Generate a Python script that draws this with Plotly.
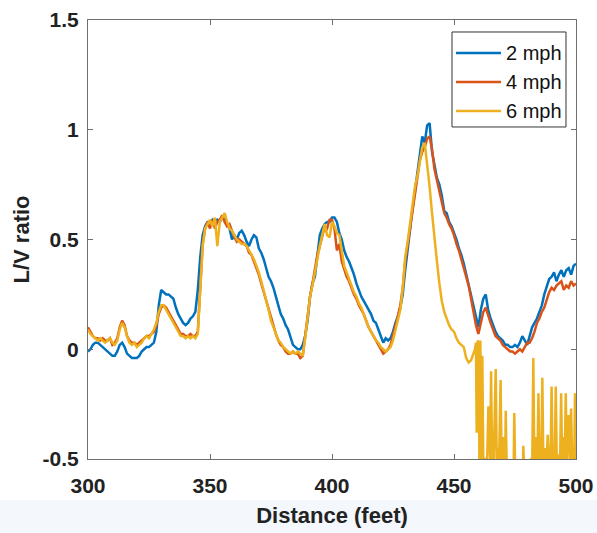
import plotly.graph_objects as go

# Distance along the track (feet), 1 ft steps
distance = list(range(300, 501))

# L/V ratio, 2 mph run
lv_2mph = [
    -0.01, 0.00, 0.02, 0.03, 0.03, 0.02, 0.01, 0.00, -0.01, -0.02,
    -0.03, -0.03, -0.01, 0.02, 0.03, 0.01, -0.02, -0.03, -0.04, -0.04,
    -0.04, -0.03, -0.01, 0.00, 0.01, 0.01, 0.02, 0.03, 0.08, 0.20,
    0.27, 0.26, 0.25, 0.25, 0.24, 0.23, 0.19, 0.16, 0.14, 0.12,
    0.11, 0.12, 0.14, 0.15, 0.17, 0.27, 0.42, 0.52, 0.56, 0.58,
    0.58, 0.59, 0.57, 0.59, 0.58, 0.60, 0.59, 0.57, 0.55, 0.50,
    0.52, 0.50, 0.53, 0.54, 0.52, 0.49, 0.47, 0.50, 0.52, 0.51,
    0.46, 0.44, 0.41, 0.37, 0.33, 0.31, 0.28, 0.24, 0.20, 0.16,
    0.14, 0.11, 0.09, 0.05, 0.02, 0.01, 0.00, 0.00, 0.02, 0.06,
    0.13, 0.24, 0.30, 0.33, 0.43, 0.52, 0.55, 0.57, 0.58, 0.58,
    0.60, 0.60, 0.58, 0.53, 0.50, 0.45, 0.42, 0.40, 0.37, 0.34,
    0.30, 0.27, 0.24, 0.22, 0.20, 0.18, 0.16, 0.13, 0.12, 0.09,
    0.06, 0.03, 0.05, 0.04, 0.05, 0.08, 0.12, 0.15, 0.19, 0.25,
    0.36, 0.46, 0.55, 0.64, 0.72, 0.81, 0.88, 0.97, 0.94, 1.02,
    1.03, 0.90, 0.84, 0.78, 0.75, 0.70, 0.63, 0.62, 0.58, 0.56,
    0.53, 0.50, 0.46, 0.43, 0.39, 0.34, 0.30, 0.25, 0.20, 0.14,
    0.10, 0.18, 0.23, 0.25, 0.18, 0.14, 0.11, 0.08, 0.06, 0.05,
    0.04, 0.02, 0.02, 0.01, 0.01, 0.02, 0.01, 0.03, 0.06, 0.04,
    0.02, 0.06, 0.10, 0.12, 0.14, 0.17, 0.20, 0.25, 0.29, 0.32,
    0.33, 0.35, 0.31, 0.34, 0.36, 0.33, 0.36, 0.37, 0.34, 0.38,
    0.39,
]

# L/V ratio, 4 mph run
lv_4mph = [
    0.10, 0.08, 0.06, 0.05, 0.05, 0.04, 0.05, 0.04, 0.04, 0.05,
    0.02, 0.03, 0.05, 0.10, 0.13, 0.11, 0.06, 0.04, 0.03, 0.03,
    0.02, 0.03, 0.04, 0.05, 0.06, 0.06, 0.07, 0.08, 0.11, 0.16,
    0.19, 0.20, 0.19, 0.17, 0.15, 0.13, 0.11, 0.09, 0.07, 0.07,
    0.06, 0.06, 0.07, 0.06, 0.06, 0.08, 0.30, 0.48, 0.55, 0.58,
    0.55, 0.59, 0.55, 0.58, 0.59, 0.61, 0.58, 0.56, 0.57, 0.54,
    0.51, 0.49, 0.50, 0.49, 0.48, 0.47, 0.44, 0.43, 0.40, 0.37,
    0.34, 0.30, 0.26, 0.22, 0.18, 0.14, 0.10, 0.07, 0.04, 0.02,
    0.01, -0.01, -0.02, -0.02, -0.01, -0.02, -0.02, -0.04, -0.03, 0.06,
    0.16, 0.24, 0.30, 0.36, 0.43, 0.47, 0.52, 0.56, 0.55, 0.59,
    0.59, 0.55, 0.45, 0.48, 0.40, 0.36, 0.33, 0.31, 0.28, 0.25,
    0.23, 0.20, 0.18, 0.16, 0.13, 0.10, 0.08, 0.06, 0.04, 0.02,
    0.00, -0.02, -0.01, 0.00, 0.02, 0.06, 0.10, 0.15, 0.20, 0.28,
    0.40, 0.48, 0.55, 0.64, 0.72, 0.78, 0.86, 0.90, 0.92, 0.96,
    0.97, 0.91, 0.82, 0.77, 0.72, 0.68, 0.62, 0.60, 0.57, 0.55,
    0.52, 0.48, 0.45, 0.41, 0.37, 0.33, 0.29, 0.23, 0.17, 0.11,
    0.07, 0.12, 0.17, 0.19, 0.15, 0.12, 0.09, 0.06, 0.05, 0.04,
    0.02, 0.01, 0.00, -0.01, -0.01, -0.02, -0.01, 0.00, -0.01, 0.01,
    0.03, 0.03, 0.05, 0.08, 0.12, 0.14, 0.17, 0.19, 0.23, 0.26,
    0.28, 0.27, 0.29, 0.30, 0.31, 0.27, 0.29, 0.28, 0.31, 0.29,
    0.30,
]

# 6 mph run: smooth part (300-458 ft) at 1 ft steps ...
distance_6mph_head = list(range(300, 459))
lv_6mph_head = [
    0.09, 0.07, 0.06, 0.05, 0.04, 0.05, 0.04, 0.03, 0.04, 0.05,
    0.03, 0.02, 0.04, 0.09, 0.12, 0.10, 0.06, 0.03, 0.02, 0.03,
    0.01, 0.02, 0.03, 0.05, 0.06, 0.05, 0.07, 0.09, 0.12, 0.17,
    0.20, 0.20, 0.18, 0.16, 0.14, 0.12, 0.10, 0.08, 0.06, 0.06,
    0.05, 0.06, 0.05, 0.06, 0.05, 0.07, 0.30, 0.47, 0.55, 0.57,
    0.59, 0.56, 0.60, 0.47, 0.58, 0.60, 0.62, 0.58, 0.55, 0.54,
    0.52, 0.50, 0.49, 0.48, 0.48, 0.47, 0.45, 0.43, 0.41, 0.38,
    0.35, 0.31, 0.27, 0.23, 0.18, 0.13, 0.10, 0.07, 0.04, 0.03,
    0.01, 0.00, -0.01, -0.02, -0.01, -0.02, -0.01, -0.02, -0.03, 0.05,
    0.15, 0.24, 0.29, 0.35, 0.42, 0.47, 0.52, 0.57, 0.52, 0.51,
    0.58, 0.56, 0.53, 0.52, 0.45, 0.38, 0.35, 0.32, 0.29, 0.26,
    0.24, 0.21, 0.19, 0.16, 0.13, 0.10, 0.08, 0.06, 0.04, 0.03,
    0.01, 0.00, -0.01, 0.00, 0.01, 0.04, 0.09, 0.14, 0.18, 0.28,
    0.42, 0.49, 0.58, 0.67, 0.74, 0.79, 0.86, 0.92, 0.94, 0.85,
    0.74, 0.62, 0.50, 0.40, 0.30, 0.22, 0.17, 0.14, 0.11, 0.09,
    0.08, 0.05, 0.03, 0.02, 0.01, -0.04, -0.06, -0.05, -0.02,
]

# ... and the dropout section past 458 ft, sampled more finely
distance_6mph_tail = [
    458.6, 459.0, 459.3, 459.7, 460.1, 460.4, 460.8, 461.2, 461.6, 462.0,
    463.6, 464.1, 464.5, 464.8, 465.2, 465.6, 466.3, 466.6, 467.1, 467.5,
    468.1, 468.5, 469.1, 469.5, 470.1, 470.5, 471.0, 471.2, 471.7, 472.0,
    474.2, 474.4, 474.7, 475.0, 475.3, 477.9, 478.1, 478.4, 478.6, 478.9,
    481.4, 481.7, 482.1, 482.5, 482.9, 483.3, 483.7, 484.2, 484.6, 485.0,
    485.8, 486.2, 486.6, 487.2, 487.7, 488.0, 488.4, 488.8, 489.6, 490.0,
    490.4, 491.0, 491.3, 491.7, 492.1, 492.7, 493.1, 493.5, 493.9, 494.3,
    495.0, 495.4, 495.8, 496.2, 497.0, 497.4, 498.0, 498.4, 499.0, 499.3,
    499.6, 500.0,
]
lv_6mph_tail = [
    0.00, 0.03, -0.38, 0.04, 0.03, -0.50, 0.04, -0.50, -0.03, -0.50,
    -0.50, -0.26, -0.50, -0.50, -0.10, -0.50, -0.50, -0.30, -0.09, -0.50,
    -0.45, -0.50, -0.14, -0.50, -0.40, -0.50, -0.50, -0.28, -0.50, -0.80,
    -0.80, -0.50, -0.29, -0.50, -0.80, -0.80, -0.50, -0.44, -0.50, -0.80,
    -0.80, -0.50, -0.50, -0.04, -0.50, -0.40, -0.50, -0.50, -0.20, -0.50,
    -0.50, -0.13, -0.50, -0.45, -0.50, -0.50, -0.39, -0.50, -0.50, -0.17,
    -0.50, -0.44, -0.50, -0.17, -0.50, -0.48, -0.50, -0.50, -0.20, -0.50,
    -0.40, -0.50, -0.20, -0.50, -0.30, -0.50, -0.27, -0.50, -0.45, -0.50,
    -0.20, -0.50,
]

x_ticks = [300, 350, 400, 450, 500]
y_ticks = [-0.5, 0, 0.5, 1, 1.5]
y_tick_text = ["-0.5", "0", "0.5", "1", "1.5"]

series = [
    ("2 mph", distance, lv_2mph, "#0072BD"),
    ("4 mph", distance, lv_4mph, "#D95319"),
    ("6 mph", distance_6mph_head + distance_6mph_tail,
     lv_6mph_head + lv_6mph_tail, "#EDB120"),
]

fig = go.Figure()
for name, xs, ys, color in series:
    fig.add_trace(go.Scatter(
        x=xs, y=ys, mode="lines", name=name,
        line=dict(color=color, width=2.5), showlegend=False,
    ))

font_family = "Liberation Sans, Arial, sans-serif"
axis_common = dict(
    showline=True, linecolor="#6e6e6e", linewidth=1, mirror="allticks",
    ticks="inside", ticklen=5, tickcolor="#6e6e6e", showgrid=False,
    zeroline=False, automargin=False,
    tickfont=dict(family=font_family, size=21, color="#222222",
                  weight="bold"),
)

fig.update_xaxes(
    range=[300, 500], tickvals=x_ticks, ticklabelstandoff=8,
    title=dict(text="Distance (feet)", standoff=11,
               font=dict(family=font_family, size=22, color="#222222",
                         weight="bold")),
    **axis_common,
)
fig.update_yaxes(
    range=[-0.5, 1.5], tickvals=y_ticks, ticktext=y_tick_text,
    ticklabelstandoff=4,
    title=dict(text="L/V ratio", standoff=6,
               font=dict(family=font_family, size=22, color="#222222",
                         weight="bold")),
    **axis_common,
)

# light band along the bottom edge of the figure
fig.add_shape(
    type="rect", xref="paper", yref="paper",
    x0=-0.2, x1=1.1, y0=-0.0934, y1=-0.2,
    fillcolor="#f4f7fb", line=dict(width=0), layer="below",
)

# legend box with a line sample and label per series (paper coordinates)
legend_box = dict(x0=0.7459, x1=0.9795, y0=0.7563, y1=0.9727)
legend_line_x = (0.7541, 0.8463)
legend_text_x = 0.8525
legend_rows_y = [0.9248, 0.8588, 0.7927]

fig.add_shape(
    type="rect", xref="paper", yref="paper", **legend_box,
    fillcolor="white", line=dict(color="#333333", width=1), layer="above",
)
for (name, _, _, color), ry in zip(series, legend_rows_y):
    fig.add_shape(
        type="line", xref="paper", yref="paper",
        x0=legend_line_x[0], x1=legend_line_x[1], y0=ry, y1=ry,
        line=dict(color=color, width=2.5), layer="above",
    )
    fig.add_annotation(
        xref="paper", yref="paper", x=legend_text_x, y=ry,
        xanchor="left", yanchor="middle", text=name, showarrow=False,
        font=dict(family=font_family, size=20, color="#111111"),
    )

fig.update_layout(
    width=597, height=533,
    margin=dict(l=88, r=21, t=20, b=74),
    paper_bgcolor="white", plot_bgcolor="white",
    showlegend=False,
)

fig.write_html("out.html")
